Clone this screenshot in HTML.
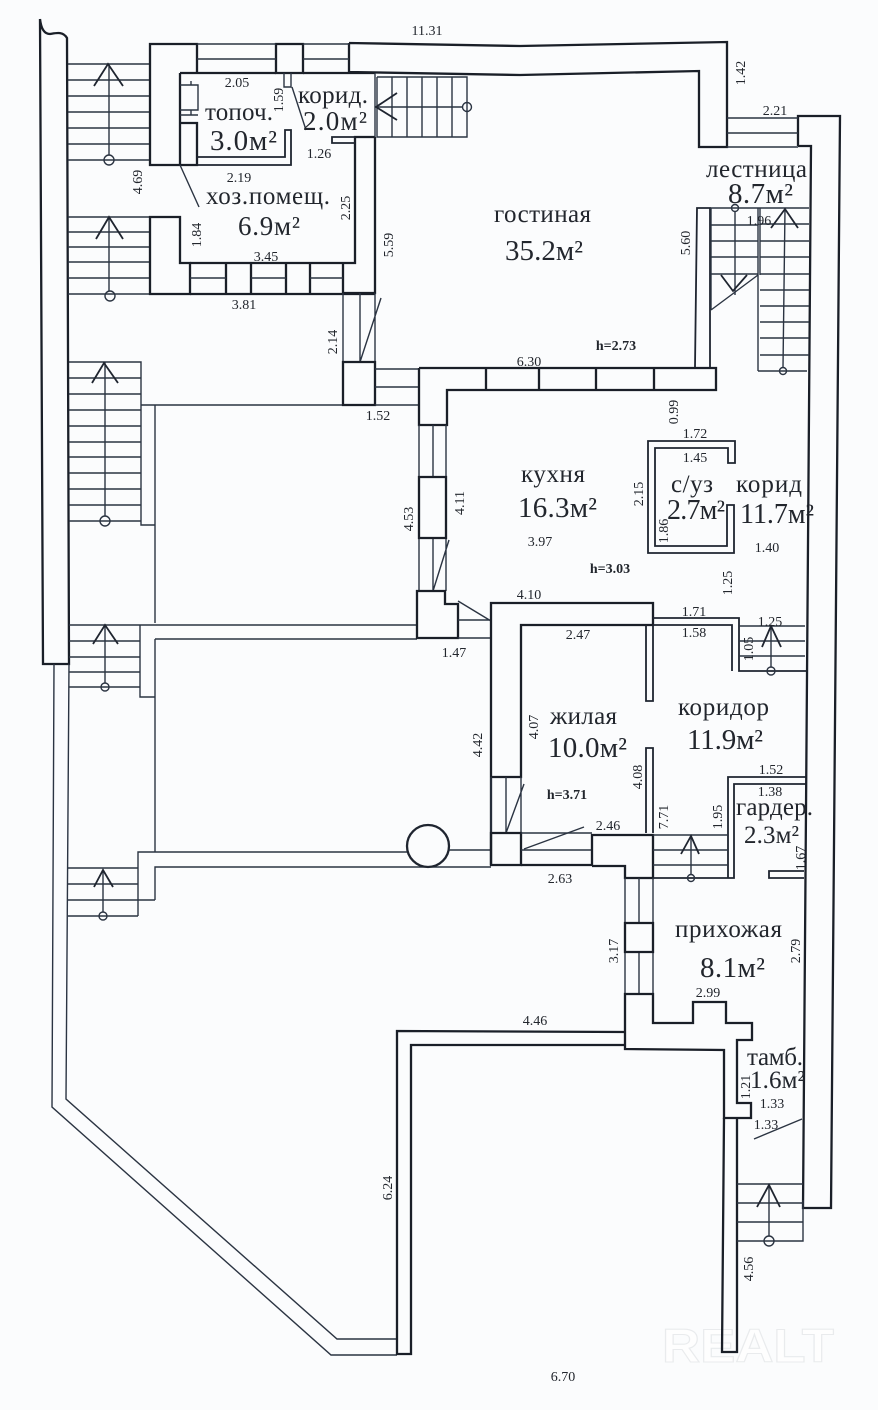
<!DOCTYPE html>
<html><head><meta charset="utf-8"><style>
html,body{margin:0;padding:0;background:#fbfcfd}
svg{display:block}
text{font-family:"Liberation Serif","Noto Serif CJK SC",serif;fill:#22262d}
.d text{font-size:14px;text-anchor:middle}
.b{font-weight:bold}
.t{stroke:#1a1f28;stroke-width:2.3;fill:none}
.n{stroke:#2b3442;stroke-width:1.4;fill:none}
.m{stroke:#1f2530;stroke-width:1.8;fill:none}
.r text{font-size:14px;text-anchor:middle}
</style></head><body>
<svg width="878" height="1410" viewBox="0 0 878 1410" xmlns="http://www.w3.org/2000/svg">
<rect width="878" height="1410" fill="#fbfcfd"/>
<!-- watermark -->
<text x="662" y="1362" font-size="47" textLength="172" lengthAdjust="spacingAndGlyphs" style="font-family:'Liberation Sans',sans-serif;font-weight:bold;fill:#fefefe;stroke:#e9ebed;stroke-width:1.1">REALT</text>

<!-- left outer wall -->
<path class="t" d="M40,19 C41,28 44,34 50,34 C56,33 63,31 67,38 L69,664 H43 L40,19"/>
<path class="n" d="M54,664 L52,1107 L331,1355 H397 M69,664 L66,1099 L337,1339 H397"/>

<!-- stairs 1 -->
<path class="n" d="M68,64H150M68,80H150M68,96H150M68,112H150M68,128H150M68,144H150M68,160H150M109,64V155"/>
<path class="m" d="M94,86L108,64L123,86"/><circle class="n" cx="109" cy="160" r="5"/>
<!-- stairs 2 -->
<path class="n" d="M68,217H150M68,232H150M68,247H150M68,262H150M68,278H150M68,294H150M109,217V291"/>
<path class="m" d="M96,239L109,217L123,239"/><circle class="n" cx="110" cy="296" r="5"/>
<!-- stairs 3 -->
<path class="n" d="M69,362H141V405M69,378H141M69,394H141M69,410H141M69,426H141M69,442H141M69,457H141M69,473H141M69,489H141M69,505H141M69,521H141M105,362V516"/>
<path class="m" d="M92,383L104,363L118,383"/><circle class="n" cx="105" cy="521" r="5"/>
<path class="n" d="M141,405V525H155M155,405V623M141,405H343"/>
<!-- stairs 4 -->
<path class="n" d="M69,625H417M69,641H140M69,657H140M69,672H140M69,687H140M105,625V683"/>
<path class="m" d="M93,644L105,625L118,644"/><circle class="n" cx="105" cy="687" r="4"/>
<path class="n" d="M140,625V697H155M155,639H417M155,639V852"/>
<!-- stairs 5 -->
<path class="n" d="M68,868H138M68,884H138M68,900H155M68,916H138M103,870V912M138,916V852H407M155,900V867H491"/>
<path class="m" d="M94,887L103,870L113,887"/><circle class="n" cx="103" cy="916" r="4"/>
<circle class="m" cx="428" cy="846" r="21" style="stroke-width:2.3"/>
<path class="n" d="M449,850H491"/>

<!-- top-left block and top wall -->
<path class="t" d="M197,73V44H150V165H197V123H180M180,73V165"/>
<path class="t" d="M180,73H276M303,73H375M349,43V72M349,43L520,46L727,42V147H699V71L520,75L349,72"/>
<path class="t" d="M276,44H303V73H276Z"/>
<path class="n" d="M197,44H276M197,59H276M303,44H349M303,59H349"/>
<!-- topochnaya -->
<path class="n" d="M180,85H198V110H180M191,81V85M191,110V115M180,115H198"/>
<path class="m" d="M197,157H285V130H291V165H197"/>
<path class="n" d="M284,73V87H291V73M292,87L306,130M180,165L199,207"/>
<!-- hoz -->
<path class="t" d="M150,217H180V263H190V294H150Z"/>
<path class="t" d="M190,263H226M226,263H251V294H226ZM251,263H286M286,263H310V294H286ZM310,263H355V137H375M375,137V293H343V263M190,294H375"/>
<path class="n" d="M190,278H226M251,278H286M310,278H343"/>
<path class="m" d="M355,143H332V137H355"/>
<!-- corridor stairs -->
<path class="n" d="M377,77H467V137H377V77M392,77V137M407,77V137M422,77V137M437,77V137M452,77V137M377,107H463M375,73V137"/>
<path class="m" d="M397,93L376,107L397,120"/><circle class="n" cx="467" cy="107" r="4.5"/>
<!-- door under 5.59 -->
<path class="n" d="M343,293V362M375,293V362M360,293V362M360,362L381,298"/>
<path class="t" d="M343,362H375V405H343Z"/>
<path class="n" d="M375,369H419M375,387H419M375,405H419"/>
<!-- 6.30 wall -->
<path class="t" d="M419,368H716V390H447V425H419V368M486,368V390M539,368V390M596,368V390M654,368V390"/>
<!-- vertical kitchen wall -->
<path class="n" d="M419,425V477M446,425V477M433,425V477M419,538V591M446,538V591M433,538V591M433,591L449,540"/>
<path class="t" d="M419,477H446V538H419Z"/>
<path class="t" d="M417,591H445V604H458V638H417Z"/>
<path class="n" d="M458,620H491M458,638H491M458,601L491,621"/>
<!-- 4.10 wall and zhilaya -->
<path class="t" d="M491,865V603H653V625H521V777H491"/>
<path class="n" d="M491,777V833M521,777V833M506,777V833M506,833L524,784"/>
<path class="t" d="M491,833H521V865H491Z"/>
<path class="n" d="M521,833H592M521,850H592"/>
<path class="n" d="M524,849L584,827"/>
<path class="t" d="M521,865H592V835H653V878H625V866H592"/>
<path class="m" d="M653,618H739V671H806M653,625H732V671"/>
<path class="n" d="M739,626H805M739,641H805M739,656H805M771,626V667"/>
<path class="m" d="M762,647L771,626L781,647"/><circle class="n" cx="771" cy="671" r="4"/>
<path class="m" d="M646,625V701H653V625M646,833V748H653V833"/>
<!-- s/uz -->
<path class="m" d="M728,463V448H655V546H727V505H734V553H648V441H735V463Z"/>
<!-- garder -->
<path class="m" d="M806,777H728V878M806,784H734V878H653"/>
<path class="m" d="M804,871H769V878H804"/>
<path class="n" d="M653,835H728M653,850H728M653,865H728M691,837V875"/>
<path class="m" d="M681,854L691,836L699,854"/><circle class="n" cx="691" cy="878" r="3.5"/>
<!-- right stair well -->
<path class="t" d="M798,146V116H840L831,1208H803L811,146H798"/>
<path class="n" d="M727,118H798M727,133H798M727,147H798"/>
<path class="m" d="M695,367L697,208H710V367"/>
<path class="n" d="M710,208H809M711,225H758M711,241H758M711,257H758M711,274H758M711,208V310M711,310L758,275"/>
<path class="n" d="M758,208V371M760,208V275M760,224H809M760,241H809M760,257H809M760,274H809M760,290H809M760,306H809M760,322H809M760,338H809M760,355H809M758,371H807"/>
<path class="n" d="M735,212V295M785,209L783,367"/>
<path class="m" d="M721,275L733,291L747,275M771,228L785,209L798,228"/>
<circle class="n" cx="735" cy="208" r="3.5"/><circle class="n" cx="783" cy="371" r="3.5"/>
<!-- 3.17 wall -->
<path class="n" d="M625,878V923M653,878V923M639,878V923M625,952V994M653,952V994M639,952V994"/>
<path class="t" d="M625,923H653V952H625Z"/>
<path class="t" d="M625,1032V994H653V1023H693V1002H726V1023H752V1040H737V1103H751V1118H724V1050L625,1049V1032"/>
<path class="t" d="M625,1032L397,1031V1354H411V1045L625,1045"/>
<path class="t" d="M724,1118L722,1352H737L737,1118"/>
<path class="n" d="M737,1184H803M737,1203H803M737,1222H803M737,1241H803V1200M769,1187V1236M754,1139L802,1119"/>
<path class="m" d="M757,1207L769,1185L780,1207"/><circle class="n" cx="769" cy="1241" r="5"/>

<!-- room labels -->
<g>
<text x="205" y="120" font-size="25" textLength="68">топоч.</text>
<text x="210" y="150" font-size="29" textLength="67">3.0м²</text>
<text x="298" y="103" font-size="25" textLength="70">корид.</text>
<text x="303" y="130" font-size="27" textLength="64">2.0м²</text>
<text x="206" y="204" font-size="25" textLength="124">хоз.помещ.</text>
<text x="238" y="235" font-size="27" textLength="62">6.9м²</text>
<text x="494" y="222" font-size="25" textLength="97">гостиная</text>
<text x="505" y="260" font-size="29" textLength="78">35.2м²</text>
<text x="706" y="177" font-size="25" textLength="101">лестница</text>
<text x="728" y="203" font-size="29" textLength="65">8.7м²</text>
<text x="521" y="482" font-size="25" textLength="64">кухня</text>
<text x="518" y="517" font-size="29" textLength="79">16.3м²</text>
<text x="671" y="492" font-size="25" textLength="42">с/уз</text>
<text x="667" y="519" font-size="28" textLength="58">2.7м²</text>
<text x="736" y="492" font-size="25" textLength="66">корид</text>
<text x="740" y="523" font-size="28" textLength="74">11.7м²</text>
<text x="550" y="724" font-size="25" textLength="67">жилая</text>
<text x="548" y="757" font-size="29" textLength="79">10.0м²</text>
<text x="678" y="715" font-size="25" textLength="91">коридор</text>
<text x="687" y="749" font-size="29" textLength="76">11.9м²</text>
<text x="736" y="815" font-size="25" textLength="77">гардер.</text>
<text x="744" y="843" font-size="25" textLength="55">2.3м²</text>
<text x="675" y="937" font-size="25" textLength="107">прихожая</text>
<text x="700" y="977" font-size="29" textLength="65">8.1м²</text>
<text x="747" y="1065" font-size="25" textLength="56">тамб.</text>
<text x="750" y="1088" font-size="25" textLength="55">1.6м²</text>
</g>

<!-- horizontal dimensions -->
<g class="d">
<text x="427" y="35">11.31</text><text x="237" y="87">2.05</text><text x="239" y="182">2.19</text>
<text x="319" y="158">1.26</text><text x="266" y="261">3.45</text><text x="244" y="309">3.81</text>
<text x="378" y="420">1.52</text><text x="775" y="115">2.21</text><text x="759" y="225">1.96</text>
<text x="529" y="366">6.30</text><text x="616" y="350" class="b">h=2.73</text>
<text x="695" y="438">1.72</text><text x="695" y="462">1.45</text><text x="767" y="552">1.40</text>
<text x="540" y="546">3.97</text><text x="610" y="573" class="b">h=3.03</text><text x="529" y="599">4.10</text>
<text x="694" y="616">1.71</text><text x="694" y="637">1.58</text><text x="578" y="639">2.47</text>
<text x="454" y="657">1.47</text><text x="770" y="626">1.25</text><text x="771" y="774">1.52</text>
<text x="770" y="796">1.38</text><text x="567" y="799" class="b">h=3.71</text><text x="608" y="830">2.46</text>
<text x="560" y="883">2.63</text><text x="708" y="997">2.99</text><text x="535" y="1025">4.46</text>
<text x="772" y="1108">1.33</text><text x="766" y="1129">1.33</text><text x="563" y="1381">6.70</text>
</g>
<!-- rotated dimensions -->
<g class="r">
<text transform="translate(278,100) rotate(-90)" y="5">1.59</text>
<text transform="translate(137,182) rotate(-90)" y="5">4.69</text>
<text transform="translate(345,208) rotate(-90)" y="5">2.25</text>
<text transform="translate(196,235) rotate(-90)" y="5">1.84</text>
<text transform="translate(388,245) rotate(-90)" y="5">5.59</text>
<text transform="translate(332,342) rotate(-90)" y="5">2.14</text>
<text transform="translate(740,73) rotate(-90)" y="5">1.42</text>
<text transform="translate(685,243) rotate(-90)" y="5">5.60</text>
<text transform="translate(673,412) rotate(-90)" y="5">0.99</text>
<text transform="translate(638,494) rotate(-90)" y="5">2.15</text>
<text transform="translate(663,531) rotate(-90)" y="5">1.86</text>
<text transform="translate(727,583) rotate(-90)" y="5">1.25</text>
<text transform="translate(459,503) rotate(-90)" y="5">4.11</text>
<text transform="translate(408,519) rotate(-90)" y="5">4.53</text>
<text transform="translate(748,649) rotate(-90)" y="5">1.05</text>
<text transform="translate(533,727) rotate(-90)" y="5">4.07</text>
<text transform="translate(477,745) rotate(-90)" y="5">4.42</text>
<text transform="translate(637,777) rotate(-90)" y="5">4.08</text>
<text transform="translate(663,817) rotate(-90)" y="5">7.71</text>
<text transform="translate(717,817) rotate(-90)" y="5">1.95</text>
<text transform="translate(800,858) rotate(-90)" y="5">1.67</text>
<text transform="translate(795,951) rotate(-90)" y="5">2.79</text>
<text transform="translate(613,951) rotate(-90)" y="5">3.17</text>
<text transform="translate(745,1087) rotate(-90)" y="5">1.21</text>
<text transform="translate(387,1188) rotate(-90)" y="5">6.24</text>
<text transform="translate(748,1269) rotate(-90)" y="5">4.56</text>
</g>
</svg>
</body></html>
